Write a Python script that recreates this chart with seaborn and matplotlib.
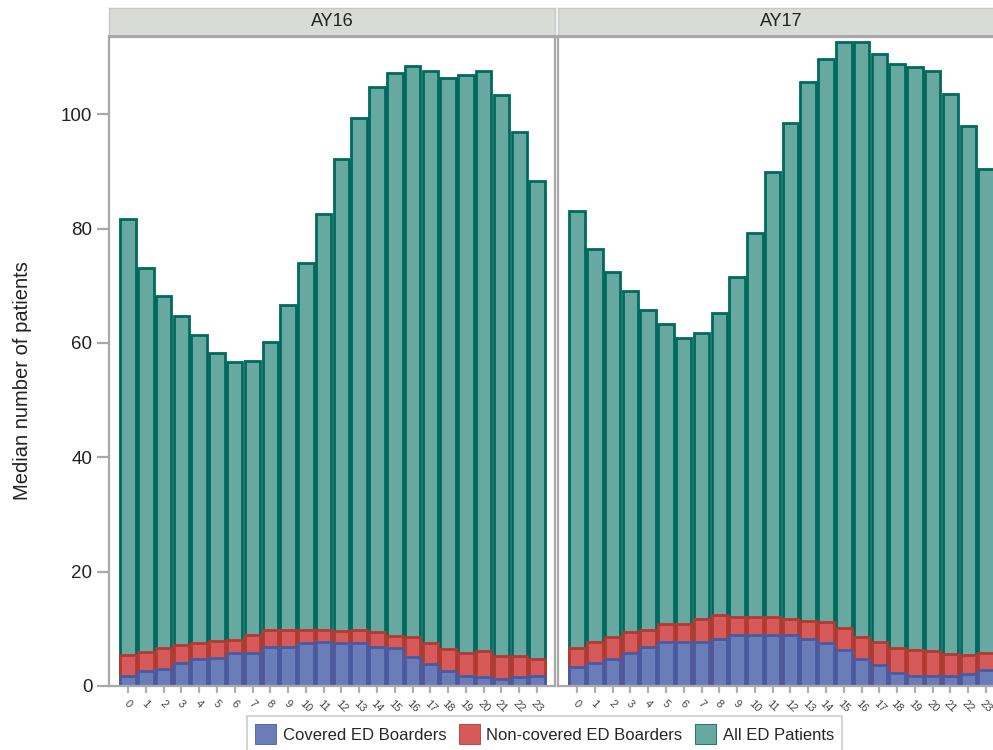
import matplotlib
matplotlib.use("Agg")
from matplotlib import pyplot as plt
from matplotlib.patches import Patch
import numpy as np
import pandas as pd
import seaborn as sns

# hours of the day
hours = list(range(24))
panels = ["AY16", "AY17"]

# median number of patients per hour
ay16_all = [81.7, 73.1, 68.2, 64.7, 61.3, 58.3, 56.7, 56.9, 60.1, 66.6, 73.9, 82.6,
            92.1, 99.4, 104.7, 107.2, 108.4, 107.5, 106.4, 106.9, 107.5, 103.3, 96.9, 88.4]
ay16_covered = [1.8, 2.6, 3.0, 4.0, 4.8, 4.9, 5.8, 5.8, 6.8, 6.8, 7.5, 7.7,
                7.5, 7.5, 6.9, 6.6, 5.0, 3.8, 2.7, 1.8, 1.5, 1.2, 1.5, 1.8]
ay16_noncovered = [3.6, 3.3, 3.6, 3.2, 2.8, 3.0, 2.3, 3.1, 3.0, 3.0, 2.3, 2.1,
                   2.2, 2.3, 2.6, 2.1, 3.6, 3.8, 3.7, 3.9, 4.6, 4.1, 3.7, 3.0]

ay17_all = [83.1, 76.5, 72.4, 69.1, 65.7, 63.3, 60.9, 61.7, 65.3, 71.6, 79.3, 89.9,
            98.4, 105.6, 109.6, 112.6, 112.6, 110.6, 108.7, 108.3, 107.5, 103.6, 97.9, 90.4]
ay17_covered = [3.3, 4.1, 4.8, 5.8, 6.8, 7.7, 7.7, 7.7, 8.3, 8.9, 8.9, 8.9,
                8.9, 8.3, 7.6, 6.3, 4.8, 3.7, 2.3, 1.8, 1.8, 1.8, 2.1, 2.8]
ay17_noncovered = [3.3, 3.6, 3.8, 3.7, 3.0, 3.1, 3.1, 4.0, 4.1, 3.2, 3.2, 3.1,
                   2.8, 3.1, 3.6, 3.8, 3.8, 4.0, 4.4, 4.5, 4.3, 3.8, 3.3, 2.9]

series_labels = ["Covered ED Boarders", "Non-covered ED Boarders", "All ED Patients"]

teal, teal_edge = "#67a8a0", "#006a5c"
red, red_edge = "#d75a5b", "#b23a31"
blue, blue_edge = "#6b7db8", "#4b5a9e"
frame = "#a8a8a8"

sns.set_theme(style="white")
plt.rcParams["font.family"] = ["Liberation Sans", "DejaVu Sans"]

W, H = 993, 750
fig = plt.figure(figsize=(W / 100, H / 100), dpi=100)

data = {
    "AY16": (ay16_all, ay16_covered, ay16_noncovered),
    "AY17": (ay17_all, ay17_covered, ay17_noncovered),
}

lefts = [109, 558]
pw = 446
top, bottom = 37, 686
bar_kw = dict(saturation=1, width=0.87, linewidth=2.0)

for i, name in enumerate(panels):
    total, cov, noncov = data[name]
    df = pd.DataFrame({"hour": hours, "all": total, "covered": cov,
                       "boarders": np.array(cov) + np.array(noncov)})
    ax = fig.add_axes([lefts[i] / W, 1 - bottom / H, pw / W, (bottom - top) / H])
    sns.barplot(data=df, x="hour", y="all", color=teal, edgecolor=teal_edge, ax=ax, **bar_kw)
    sns.barplot(data=df, x="hour", y="boarders", color=red, edgecolor=red_edge, ax=ax, **bar_kw)
    sns.barplot(data=df, x="hour", y="covered", color=blue, edgecolor=blue_edge, ax=ax, **bar_kw)
    ax.set_xlim(-1.07, 24.01)
    ax.set_ylim(0, 113.5)
    ax.set_xlabel("")
    ax.set_ylabel("")
    for s in ax.spines.values():
        s.set_color(frame)
        s.set_linewidth(1.6)
    ax.tick_params(axis="x", length=5, width=1.6, color="#b0b0b0", bottom=True, pad=4)
    ax.set_xticks(range(24))
    ax.set_xticklabels([str(h) for h in hours], rotation=-45, fontsize=8,
                       color="#444444", ha="center", va="top")
    if i == 0:
        ax.set_yticks([0, 20, 40, 60, 80, 100])
        ax.tick_params(axis="y", length=9, width=1.6, color=frame, left=True,
                       labelsize=13.5, labelcolor="#222222", pad=3)
        ax.set_ylabel("Median number of patients", fontsize=14.5, color="#222222")
        ax.yaxis.set_label_coords(-0.172, 0.47)
    else:
        ax.set_yticks([])

    # strip header
    sax = fig.add_axes([lefts[i] / W, 1 - 36 / H, pw / W, 28 / H])
    sax.set_facecolor("#d9dbd6")
    sax.set_xticks([])
    sax.set_yticks([])
    for s in sax.spines.values():
        s.set_color("#c8c8c8")
        s.set_linewidth(1.0)
    sax.spines["bottom"].set_color(frame)
    sax.spines["bottom"].set_linewidth(2.2)
    sax.text(0.5, 0.5, name, ha="center", va="center", fontsize=13,
             color="#222222", transform=sax.transAxes)

handles = [Patch(facecolor=blue, edgecolor=blue_edge, linewidth=0.6),
           Patch(facecolor=red, edgecolor=red_edge, linewidth=0.6),
           Patch(facecolor=teal, edgecolor=teal_edge, linewidth=0.6)]
leg = fig.legend(handles, series_labels, loc="upper left",
                 bbox_to_anchor=(247 / W, 1 - 716 / H), ncol=3, fontsize=12,
                 frameon=True, fancybox=False, handlelength=1.25, handleheight=1.4,
                 handletextpad=0.4, columnspacing=0.75, borderpad=0.5,
                 borderaxespad=0)
leg.get_frame().set_edgecolor("#c0c0c0")
leg.get_frame().set_linewidth(1.2)

fig.savefig("out.png", dpi=100)
